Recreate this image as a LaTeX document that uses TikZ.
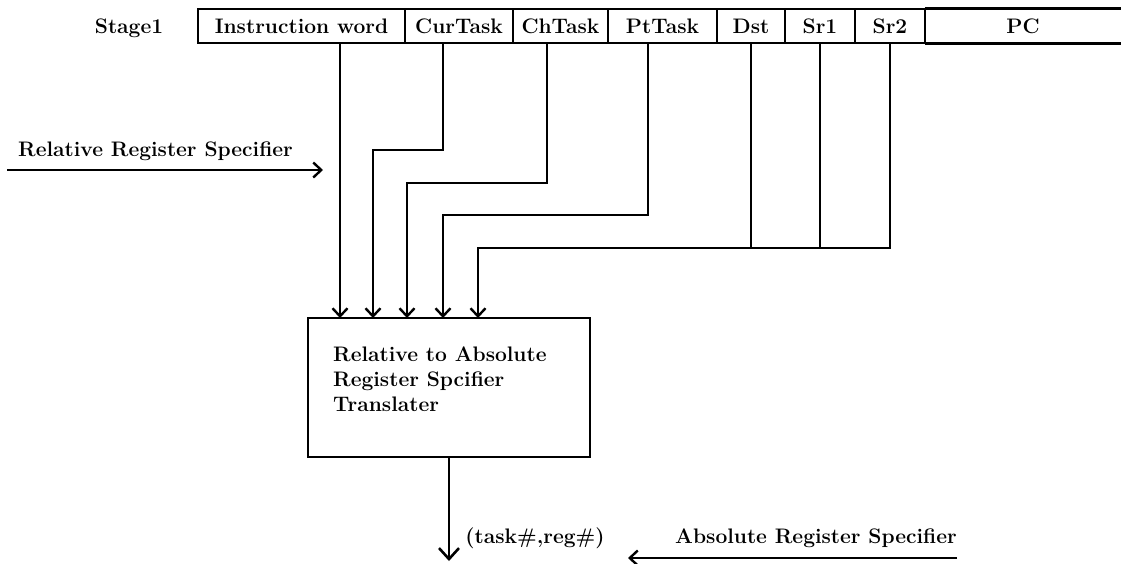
\documentclass[tikz,border=0pt]{standalone}
\usepackage{fontspec}
\usetikzlibrary{arrows.meta}
\newcommand{\lblfont}{\fontsize{21}{25}\selectfont\bfseries\addfontfeatures{FakeBold=1.3}}
\tikzset{
  wire/.style={line width=2.8pt},
  arr/.style={wire, -{Straight Barb[length=8pt,width=15pt,line width=2.4pt]}},
  bigarr/.style={wire, -{Straight Barb[length=11pt,width=20pt,line width=2.6pt]}},
  field/.style={draw, line width=2.8pt, minimum height=34pt, inner sep=0pt,
                text height=14.5pt, text depth=0pt, font=\lblfont},
  openfield/.style={minimum height=34pt, inner sep=0pt,
                text height=14.5pt, text depth=0pt, font=\lblfont},
  box/.style={draw, line width=2.8pt, inner sep=0pt},
  txt/.style={inner sep=0pt, font=\lblfont}
}
\begin{document}
\begin{tikzpicture}[x=1pt,y=-1pt]
\useasboundingbox (0,0) rectangle (1121,563);
% register row
\node[txt, anchor=base] (stage) at (129,33) {Stage1};
\node[field, minimum width=207pt] (iw)  at (301.5,26) {Instruction word};
\node[field, minimum width=108pt] (cur) at (459,26)   {CurTask};
\node[field, minimum width=95pt]  (ch)  at (560.5,26) {ChTask};
\node[field, minimum width=109pt] (pt)  at (662.5,26) {PtTask};
\node[field, minimum width=68pt]  (dst) at (751,26)   {Dst};
\node[field, minimum width=70pt]  (sr1) at (820,26)   {Sr1};
\node[field, minimum width=70pt]  (sr2) at (890,26)   {Sr2};
\node[openfield, minimum width=196pt] (pc) at (1023,26) {PC};
\draw[wire] (pc.north west) -- (pc.north east);
\draw[wire] (pc.south west) -- (pc.south east);
% translator box
\node[box, minimum width=282pt, minimum height=139pt] (tr) at (449,387.5) {};
\node[txt, anchor=north west, align=left] (trtext) at (333,347)
  {Relative to Absolute\\Register Spcifier\\Translater};
% inputs on box top
\coordinate (t1) at (340,318);
\coordinate (t2) at (373,318);
\coordinate (t3) at (407,318);
\coordinate (t4) at (443,318);
\coordinate (t5) at (478,318);
\coordinate (c2) at (373,150);
\coordinate (c3) at (407,183);
\coordinate (c4) at (443,215);
\coordinate (c5) at (478,248);
\draw[arr] (iw.south -| t1) -- (t1);
\draw[arr] ([xshift=-16pt]cur.south) |- (c2) -- (t2);
\draw[arr] ([xshift=-13.5pt]ch.south) |- (c3) -- (t3);
\draw[arr] ([xshift=-14.5pt]pt.south) |- (c4) -- (t4);
\draw[wire] (dst.south) -- (dst.south |- c5);
\draw[wire] (sr1.south) -- (sr1.south |- c5);
\draw[arr] (sr2.south) |- (c5) -- (t5);
% relative register specifier
\node[txt, anchor=base west] (rrs) at (18,156) {Relative Register Specifier};
\coordinate (rrsL) at (7,170);
\coordinate (rrsR) at (323,170);
\draw[arr] (rrsL) -- (rrsR);
% output
\coordinate (out) at (tr.south |- 0,561);
\draw[bigarr] (tr.south) -- (out);
\node[txt, anchor=base] (outlbl) at (535,543) {(task\#,reg\#)};
% absolute register specifier
\node[txt, anchor=base west] (ars) at (675,543) {Absolute Register Specifier};
\coordinate (arsL) at (628,558);
\draw[arr] (ars.east |- arsL) -- (arsL);
\end{tikzpicture}
\end{document}
